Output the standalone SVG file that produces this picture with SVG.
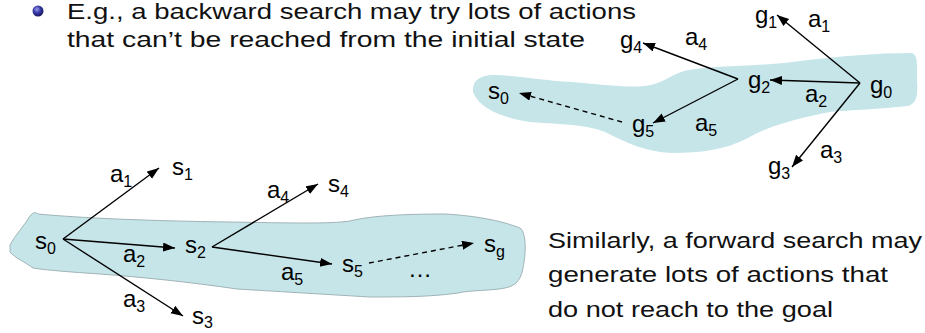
<svg xmlns="http://www.w3.org/2000/svg" width="925" height="333" viewBox="0 0 925 333">
<defs>
<radialGradient id="ball" cx="0.4" cy="0.35" r="0.65">
<stop offset="0" stop-color="#9a9ae8"/>
<stop offset="0.5" stop-color="#3a3aa8"/>
<stop offset="1" stop-color="#16165e"/>
</radialGradient>
<marker id="ah" markerWidth="13" markerHeight="10" refX="12" refY="4.5" orient="auto" markerUnits="userSpaceOnUse">
<path d="M0,0 L12,4.5 L0,9 Z" fill="#000"/>
</marker>
<style>
.body{font-family:"Liberation Sans",Arial,sans-serif;font-size:22px;fill:#111}
.lbl{font-family:"Liberation Sans",Arial,sans-serif;font-size:24px;fill:#000}
.sub{font-size:16px}
.edge{stroke:#000;stroke-width:1.4;fill:none;marker-end:url(#ah)}
.dash{stroke-dasharray:5,4}
.blob{fill:#c6e5e9}
</style>
</defs>

<g id="text-top">
<circle cx="38" cy="11" r="5.5" fill="url(#ball)"/>
<text class="body" x="67" y="19" textLength="569" lengthAdjust="spacingAndGlyphs">E.g., a backward search may try lots of actions</text>
<text class="body" x="67" y="47" textLength="518" lengthAdjust="spacingAndGlyphs">that can’t be reached from the initial state</text>
</g>

<g id="text-right">
<text class="body" x="548" y="248" textLength="374" lengthAdjust="spacingAndGlyphs">Similarly, a forward search may</text>
<text class="body" x="548" y="282" textLength="340" lengthAdjust="spacingAndGlyphs">generate lots of actions that</text>
<text class="body" x="548" y="317" textLength="285" lengthAdjust="spacingAndGlyphs">do not reach to the goal</text>
</g>

<g id="blob-top">
<path class="blob" d="M473,92 C472,82 478,76 492,75 C515,75 545,81 572,82 C600,84 625,88 645,86 C662,84 668,76 684,71 C710,65 760,67 800,61 C840,56 880,53 912,53 C918,55 917,65 917,80 C918,95 917,103 908,106 C880,109 850,110 830,112 C800,118 770,125 748,138 C725,150 700,153 672,153 C645,152 625,142 605,132 C585,124 555,124 530,122 C505,118 480,110 473,92 Z"/>
</g>

<g id="blob-bottom">
<path class="blob" stroke="#9fb4b7" stroke-width="1" d="M10,245 C15,235 25,225 30,216 C33,212 36,212 38,214 C80,218 150,221 230,222 C290,223 330,224 350,221 C370,216 400,214 445,214 C480,216 505,222 520,228 C526,232 526,250 524,262 C522,275 520,285 505,288 C490,291 470,290 458,293 C430,297 400,297 370,297 C320,294 270,291 237,289 C190,282 140,277 100,274 C70,272 45,270 33,268 C25,262 15,258 10,252 Z"/>
</g>

<g id="connectors">
<line class="edge" x1="63" y1="239" x2="159" y2="168"/>
<line class="edge" x1="63" y1="239" x2="175" y2="248"/>
<line class="edge" x1="63" y1="239" x2="183" y2="316"/>
<line class="edge" x1="212" y1="247" x2="318" y2="184"/>
<line class="edge" x1="212" y1="247" x2="332" y2="264"/>
<line class="edge dash" x1="369" y1="263" x2="474" y2="243"/>
<line class="edge" x1="860" y1="83" x2="777" y2="15"/>
<line class="edge" x1="860" y1="83" x2="770" y2="80"/>
<line class="edge" x1="860" y1="83" x2="792" y2="167"/>
<line class="edge" x1="738" y1="79" x2="643" y2="43"/>
<line class="edge" x1="738" y1="79" x2="653" y2="123"/>
<line class="edge dash" x1="622" y1="122" x2="519" y2="93"/>
</g>

<g id="fwd-s0"><text class="lbl" x="35" y="249">s<tspan class="sub" dy="5">0</tspan></text></g>
<g id="fwd-a1"><text class="lbl" x="110" y="182">a<tspan class="sub" dy="5">1</tspan></text></g>
<g id="fwd-s1"><text class="lbl" x="172" y="175">s<tspan class="sub" dy="5">1</tspan></text></g>
<g id="fwd-a2"><text class="lbl" x="123" y="262">a<tspan class="sub" dy="5">2</tspan></text></g>
<g id="fwd-s2"><text class="lbl" x="185" y="253">s<tspan class="sub" dy="5">2</tspan></text></g>
<g id="fwd-a3"><text class="lbl" x="123" y="307">a<tspan class="sub" dy="5">3</tspan></text></g>
<g id="fwd-s3"><text class="lbl" x="192" y="324">s<tspan class="sub" dy="4">3</tspan></text></g>
<g id="fwd-a4"><text class="lbl" x="267" y="198">a<tspan class="sub" dy="5">4</tspan></text></g>
<g id="fwd-s4"><text class="lbl" x="328" y="192">s<tspan class="sub" dy="5">4</tspan></text></g>
<g id="fwd-a5"><text class="lbl" x="281" y="280">a<tspan class="sub" dy="5">5</tspan></text></g>
<g id="fwd-s5"><text class="lbl" x="342" y="272">s<tspan class="sub" dy="5">5</tspan></text></g>
<g id="fwd-sg"><text class="lbl" x="484" y="252">s<tspan class="sub" dy="5">g</tspan></text></g>
<g id="fwd-dots"><text class="lbl" x="408" y="277">…</text></g>

<g id="bwd-g0"><text class="lbl" x="870" y="93">g<tspan class="sub" dy="5">0</tspan></text></g>
<g id="bwd-g1"><text class="lbl" x="755" y="23">g<tspan class="sub" dy="5">1</tspan></text></g>
<g id="bwd-a1"><text class="lbl" x="808" y="27">a<tspan class="sub" dy="5">1</tspan></text></g>
<g id="bwd-g2"><text class="lbl" x="748" y="88">g<tspan class="sub" dy="5">2</tspan></text></g>
<g id="bwd-a2"><text class="lbl" x="805" y="102">a<tspan class="sub" dy="5">2</tspan></text></g>
<g id="bwd-g3"><text class="lbl" x="768" y="174">g<tspan class="sub" dy="5">3</tspan></text></g>
<g id="bwd-a3"><text class="lbl" x="820" y="158">a<tspan class="sub" dy="5">3</tspan></text></g>
<g id="bwd-g4"><text class="lbl" x="620" y="48">g<tspan class="sub" dy="5">4</tspan></text></g>
<g id="bwd-a4"><text class="lbl" x="685" y="45">a<tspan class="sub" dy="5">4</tspan></text></g>
<g id="bwd-g5"><text class="lbl" x="632" y="132">g<tspan class="sub" dy="5">5</tspan></text></g>
<g id="bwd-a5"><text class="lbl" x="695" y="131">a<tspan class="sub" dy="5">5</tspan></text></g>
<g id="bwd-s0"><text class="lbl" x="488" y="99">s<tspan class="sub" dy="5">0</tspan></text></g>
</svg>
